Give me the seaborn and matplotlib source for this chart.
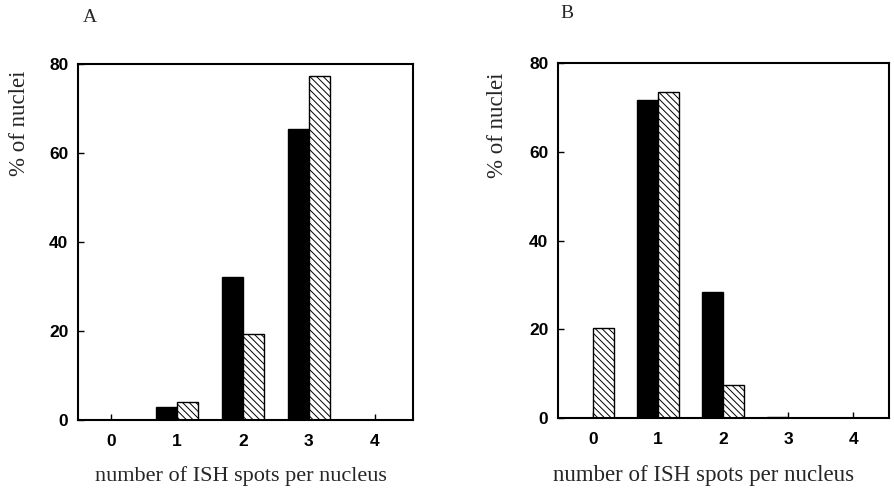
import matplotlib
matplotlib.use("Agg")
import matplotlib.pyplot as plt
import seaborn as sns
import pandas as pd

# ---- data ----
spots = [0, 1, 2, 3, 4]
a_solid = [0.0, 2.9, 32.1, 65.4, 0.0]
a_hatched = [0.0, 4.1, 19.3, 77.4, 0.0]
b_solid = [0.0, 71.6, 28.4, 0.3, 0.0]
b_hatched = [20.3, 73.4, 7.4, 0.0, 0.0]
yticks = [0, 20, 40, 60, 80]
xlabel = "number of ISH spots per nucleus"
ylabel = "% of nuclei"

sns.set_theme(style="ticks")
plt.rcParams["font.family"] = ["Liberation Sans", "DejaVu Sans"]
plt.rcParams["hatch.linewidth"] = 0.7

W, H = 895, 488
fig = plt.figure(figsize=(W / 100, H / 100), dpi=100)

def make_df(solid, hatched):
    return pd.DataFrame({
        "spots": [str(s) for s in spots] * 2,
        "pct": list(solid) + list(hatched),
        "group": ["solid"] * len(spots) + ["hatched"] * len(spots),
    })

def px_axes(l, t, r, b):
    return fig.add_axes([l / W, 1 - b / H, (r - l) / W, (b - t) / H])

panels = [
    (px_axes(78, 64, 413, 420), a_solid, a_hatched, (-0.5, 4.58)),
    (px_axes(558, 63, 889, 418), b_solid, b_hatched, (-0.54, 4.55)),
]

for ax, solid, hatched, xl in panels:
    df = make_df(solid, hatched)
    sns.barplot(data=df, x="spots", y="pct", hue="group",
                palette={"solid": "black", "hatched": "white"},
                width=0.64, ax=ax, legend=False, saturation=1,
                edgecolor="black", linewidth=1.0)
    for p in ax.containers[1]:
        p.set_hatch("\\\\\\\\\\")
        p.set_edgecolor("black")
        p.set_facecolor("white")
    ax.set_xlim(*xl)
    ax.set_ylim(0, 80)
    ax.set_yticks(yticks)
    ax.set_xlabel("")
    ax.set_ylabel("")
    for s in ax.spines.values():
        s.set_visible(True)
        s.set_linewidth(1.5)
        s.set_color("black")
    ax.tick_params(direction="in", length=4, width=1, colors="black",
                   labelsize=12.5)
    ax.tick_params(axis="x", pad=10)
    ax.tick_params(axis="y", pad=7)
    for lab in ax.get_xticklabels() + ax.get_yticklabels():
        lab.set_fontweight("bold")

serif = ["Liberation Serif", "DejaVu Serif"]
fig.text(241 / W, 1 - 476 / H, xlabel, ha="center", va="center",
         fontsize=16, family=serif)
fig.text(704 / W, 1 - 476 / H, xlabel, ha="center", va="center",
         fontsize=16.5, family=serif)
fig.text(20 / W, 1 - 123 / H, ylabel, ha="center", va="center",
         rotation=90, fontsize=16.5, family=serif)
fig.text(498 / W, 1 - 125 / H, ylabel, ha="center", va="center",
         rotation=90, fontsize=16.5, family=serif)
fig.text(90 / W, 1 - 17 / H, "A", ha="center", va="center",
         fontsize=14, family=serif)
fig.text(567 / W, 1 - 14 / H, "B", ha="center", va="center",
         fontsize=14, family=serif)

fig.savefig("out.png", dpi=100)
